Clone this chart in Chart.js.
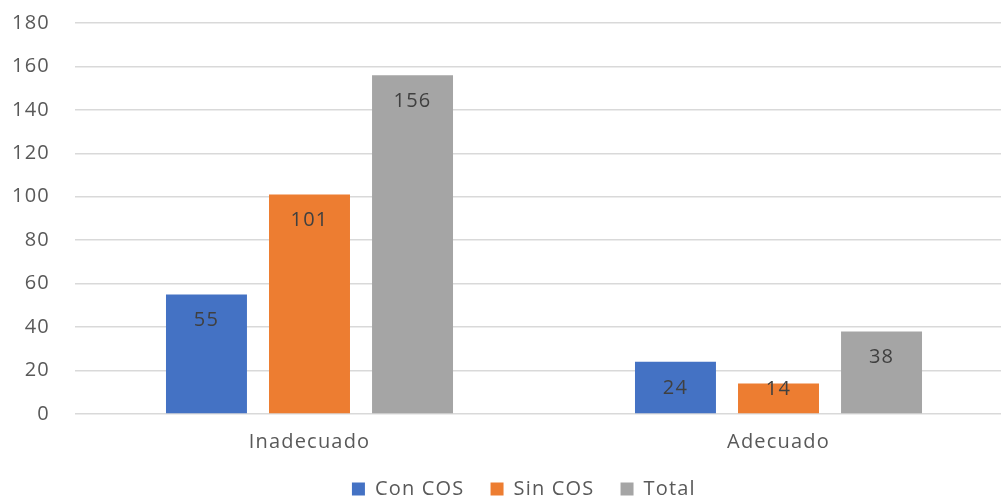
<!DOCTYPE html>
<html>
<head>
<meta charset="utf-8">
<script src="https://cdn.jsdelivr.net/npm/chart.js@4.4.1/dist/chart.umd.min.js"></script>
<style>
html,body{margin:0;padding:0;background:#fff;overflow:hidden;}
#wrap{width:1001px;height:499px;position:relative;overflow:hidden;background:#fff;}
#wrap canvas{position:absolute;left:0;top:0;display:block;}
</style>
</head>
<body>
<div id="wrap"></div>
<script>
const categories = ["Inadecuado", "Adecuado"];
const seriesNames = ["Con COS", "Sin COS", "Total"];
const conCOS = [55, 24];
const sinCOS = [101, 14];
const total = [156, 38];
const yTicks = [0, 20, 40, 60, 80, 100, 120, 140, 160, 180];

const colors = ["#4472C4", "#ED7D31", "#A5A5A5"];
const FONT = "'Open Sans', sans-serif";
const FS = 20;
const LS = "1.2px";

// target layout (pixels in the 1001x499 view)
const TARGET_TOP = 23, TARGET_H = 391;
const CANVAS_W = 1030;

const labelPlugin = {
  id: 'barLabels',
  afterLayout(chart) {
    const lg = chart.legend;
    if (lg) { lg.left += 6; lg.right += 6; }
  },
  beforeDraw(chart) { chart.ctx.letterSpacing = LS; },
  afterDatasetsDraw(chart) {
    const ctx = chart.ctx;
    ctx.save();
    ctx.letterSpacing = LS;
    ctx.font = FS + "px " + FONT;
    ctx.fillStyle = "#404040";
    ctx.textAlign = "center";
    ctx.textBaseline = "middle";
    chart.data.datasets.forEach((ds, i) => {
      const meta = chart.getDatasetMeta(i);
      meta.data.forEach((bar, j) => {
        const h = bar.base - bar.y;
        const off = Math.min(26, Math.max(6, h - 24));
        ctx.fillText(String(ds.data[j]), bar.x, bar.y + off);
      });
    });
    ctx.restore();
  }
};

function makeChart(H) {
  const wrap = document.getElementById('wrap');
  wrap.innerHTML = '';
  const cv = document.createElement('canvas');
  cv.width = CANVAS_W; cv.height = H;
  cv.style.width = CANVAS_W + 'px'; cv.style.height = H + 'px';
  wrap.appendChild(cv);
  const ctx = cv.getContext('2d');
  ctx.letterSpacing = LS;
  return new Chart(cv, {
    type: 'bar',
    data: {
      labels: categories,
      datasets: [
        { label: seriesNames[0], data: conCOS, backgroundColor: colors[0] },
        { label: seriesNames[1], data: sinCOS, backgroundColor: colors[1] },
        { label: seriesNames[2], data: total, backgroundColor: colors[2] }
      ]
    },
    options: {
      responsive: false,
      maintainAspectRatio: false,
      animation: false,
      devicePixelRatio: 1,
      layout: { padding: { top: 0, right: 17, left: 0, bottom: 0 } },
      datasets: { bar: { categoryPercentage: 0.659, barPercentage: 0.786 } },
      plugins: {
        legend: {
          position: 'bottom',
          labels: {
            boxWidth: 13, boxHeight: 13, padding: 26,
            color: "#595959",
            font: { family: FONT, size: FS }
          }
        },
        tooltip: { enabled: false }
      },
      scales: {
        x: {
          grid: { display: false },
          border: { display: false },
          afterFit(scale) { scale.height = 39; },
          ticks: { color: "#595959", font: { family: FONT, size: FS }, padding: 8 }
        },
        y: {
          min: 0, max: 180,
          afterBuildTicks(scale) { scale.ticks = yTicks.map(v => ({ value: v })); },
          afterFit(scale) { scale.width = 75; },
          grid: { color: "#D9D9D9", lineWidth: 1.5, drawTicks: false },
          border: { display: false },
          ticks: { color: "#595959", font: { family: FONT, size: FS }, padding: 25 }
        }
      }
    },
    plugins: [labelPlugin]
  });
}

let H = 560;
let chart = makeChart(H);
for (let k = 0; k < 3; k++) {
  const ca = chart.chartArea;
  const h = ca.bottom - ca.top;
  if (Math.abs(h - TARGET_H) < 0.5) break;
  H = Math.round(H + (TARGET_H - h));
  chart.destroy();
  chart = makeChart(H);
}
const oy = chart.chartArea.top - TARGET_TOP;
chart.canvas.style.top = (-oy) + 'px';
</script>
</body>
</html>
